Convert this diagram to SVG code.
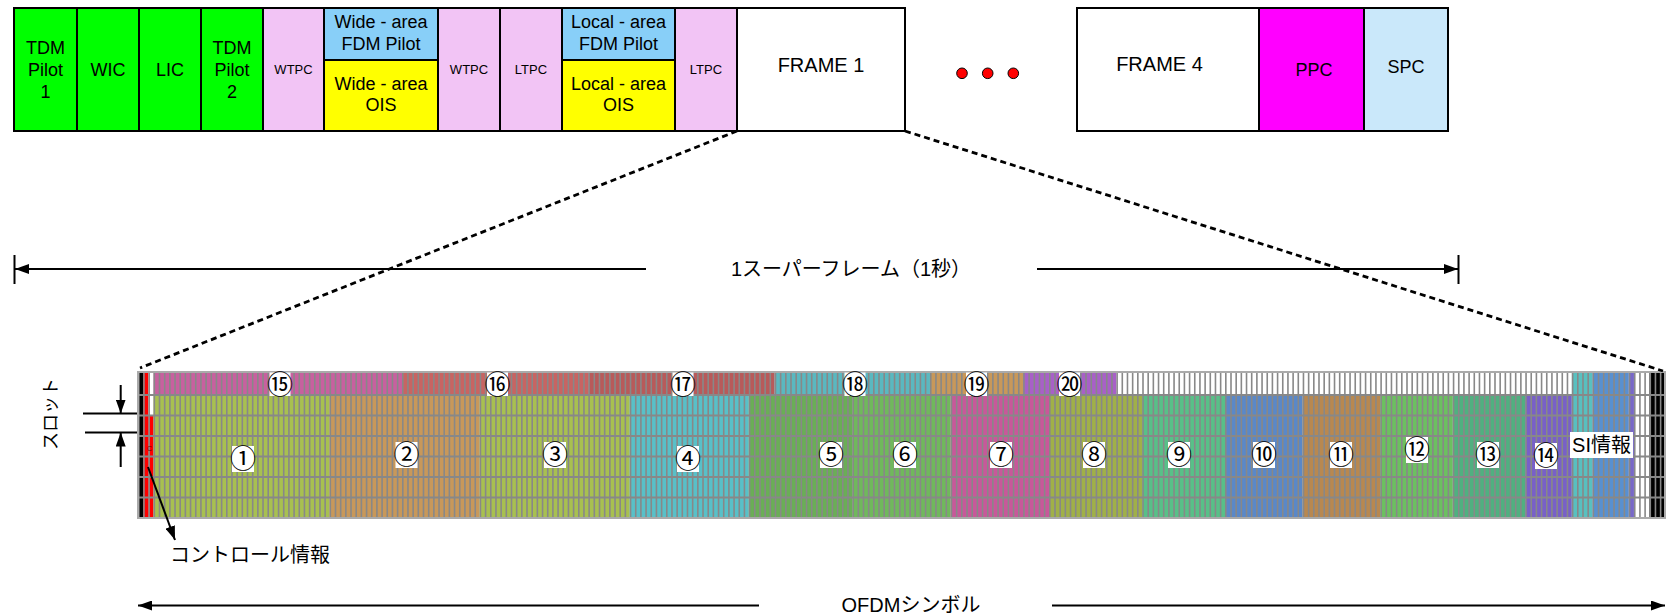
<svg xmlns="http://www.w3.org/2000/svg" width="1666" height="614" viewBox="0 0 1666 614">
<defs>
<style>
.blk{stroke:#000;stroke-width:2}
.t{font-family:"Liberation Sans",Arial,sans-serif;font-size:18px;fill:#000;text-anchor:middle}
.ts{font-size:13px}
.tf{font-size:20px}
.j{font-family:"Liberation Sans","Noto Sans CJK JP",sans-serif;font-size:20px;fill:#000}
.n{font-family:"Noto Sans CJK JP",sans-serif;font-size:26px;text-anchor:middle;fill:#000}
.lb{fill:#fff}
.ln{stroke:#000;stroke-width:2;fill:none}
.dot{stroke:#000;stroke-width:2.8;stroke-dasharray:6 4;fill:none}
</style>
<marker id="ah" viewBox="0 0 14 10" refX="14" refY="5" markerWidth="14" markerHeight="10" markerUnits="userSpaceOnUse" orient="auto"><path d="M0,0 L14,5 L0,10 z" fill="#000"/></marker>
</defs>
<rect width="1666" height="614" fill="#fff"/>

<g id="tdm-pilot-1"><rect class="blk" x="14" y="8" width="63" height="123" fill="#00ff00"/><text class="t" x="45.5" y="54">TDM</text><text class="t" x="45.5" y="76">Pilot</text><text class="t" x="45.5" y="98">1</text></g>
<g id="wic"><rect class="blk" x="77" y="8" width="62" height="123" fill="#00ff00"/><text class="t" x="108" y="76">WIC</text></g>
<g id="lic"><rect class="blk" x="139" y="8" width="62" height="123" fill="#00ff00"/><text class="t" x="170" y="76">LIC</text></g>
<g id="tdm-pilot-2"><rect class="blk" x="201" y="8" width="62" height="123" fill="#00ff00"/><text class="t" x="232" y="54">TDM</text><text class="t" x="232" y="76">Pilot</text><text class="t" x="232" y="98">2</text></g>
<g id="wtpc-1"><rect class="blk" x="263" y="8" width="61" height="123" fill="#f2c4f5"/><text class="t ts" x="293.5" y="74">WTPC</text></g>
<g id="wide-fdm-pilot"><rect class="blk" x="324" y="8" width="114" height="52" fill="#88cff8"/><text class="t" x="381" y="28">Wide - area</text><text class="t" x="381" y="50">FDM Pilot</text></g>
<g id="wide-ois"><rect class="blk" x="324" y="60" width="114" height="71" fill="#ffff00"/><text class="t" x="381" y="90">Wide - area</text><text class="t" x="381" y="111">OIS</text></g>
<g id="wtpc-2"><rect class="blk" x="438" y="8" width="62" height="123" fill="#f2c4f5"/><text class="t ts" x="469" y="74">WTPC</text></g>
<g id="ltpc-1"><rect class="blk" x="500" y="8" width="62" height="123" fill="#f2c4f5"/><text class="t ts" x="531" y="74">LTPC</text></g>
<g id="local-fdm-pilot"><rect class="blk" x="562" y="8" width="113" height="52" fill="#88cff8"/><text class="t" x="618.5" y="28">Local - area</text><text class="t" x="618.5" y="50">FDM Pilot</text></g>
<g id="local-ois"><rect class="blk" x="562" y="60" width="113" height="71" fill="#ffff00"/><text class="t" x="618.5" y="90">Local - area</text><text class="t" x="618.5" y="111">OIS</text></g>
<g id="ltpc-2"><rect class="blk" x="675" y="8" width="62" height="123" fill="#f2c4f5"/><text class="t ts" x="706" y="74">LTPC</text></g>
<g id="frame-1"><rect class="blk" x="737" y="8" width="168" height="123" fill="#fff"/><text class="t tf" x="821" y="72">FRAME 1</text></g>
<g id="ellipsis"><circle cx="962" cy="73.3" r="5.3" fill="#f00" stroke="#000" stroke-width="1"/><circle cx="987.7" cy="73.3" r="5.3" fill="#f00" stroke="#000" stroke-width="1"/><circle cx="1013.3" cy="73.3" r="5.3" fill="#f00" stroke="#000" stroke-width="1"/></g>
<g id="frame-4"><rect class="blk" x="1077" y="8" width="182" height="123" fill="#fff"/><text class="t tf" x="1159.5" y="71">FRAME 4</text></g>
<g id="ppc"><rect class="blk" x="1259" y="8" width="105" height="123" fill="#ff00ff"/><text class="t" x="1314" y="76">PPC</text></g>
<g id="spc"><rect class="blk" x="1364" y="8" width="84" height="123" fill="#cae8fa"/><text class="t" x="1406" y="73">SPC</text></g>

<g id="frame-grid">
<rect x="138" y="372" width="1527" height="146" fill="#fff"/>
<rect x="138" y="372" width="5.18" height="146" fill="#000"/>
<rect x="143.18" y="372" width="5.18" height="146" fill="#f00"/>
<rect x="148.35" y="415.5" width="5.18" height="102.5" fill="#f00"/>
<rect x="153.53" y="372" width="248.46" height="23" fill="#c8609f"/>
<rect x="401.99" y="372" width="186.35" height="23" fill="#c86462"/>
<rect x="588.34" y="372" width="186.34" height="23" fill="#b85a5a"/>
<rect x="774.68" y="372" width="155.29" height="23" fill="#5ab8c0"/>
<rect x="929.97" y="372" width="93.18" height="23" fill="#c8985a"/>
<rect x="1023.15" y="372" width="93.17" height="23" fill="#a860c8"/>
<rect x="153.53" y="395" width="175.99" height="123" fill="#a8c050"/>
<rect x="329.52" y="395" width="150.12" height="123" fill="#c8985a"/>
<rect x="479.64" y="395" width="150.11" height="123" fill="#a8c050"/>
<rect x="629.75" y="395" width="119.05" height="123" fill="#58c0c8"/>
<rect x="748.8" y="395" width="103.53" height="123" fill="#6aae56"/>
<rect x="852.33" y="395" width="98.35" height="123" fill="#70b85c"/>
<rect x="950.68" y="395" width="98.35" height="123" fill="#c8589a"/>
<rect x="1049.03" y="395" width="93.17" height="123" fill="#a0b048"/>
<rect x="1142.2" y="395" width="82.82" height="123" fill="#58c088"/>
<rect x="1225.02" y="395" width="77.64" height="123" fill="#5a88c8"/>
<rect x="1302.66" y="395" width="77.65" height="123" fill="#b88850"/>
<rect x="1380.31" y="395" width="72.47" height="123" fill="#6cc060"/>
<rect x="1452.78" y="395" width="72.47" height="123" fill="#50b080"/>
<rect x="1525.25" y="395" width="46.59" height="123" fill="#7860c8"/>
<rect x="1571.84" y="372" width="20.7" height="146" fill="#58c0c0"/>
<rect x="1592.54" y="372" width="36.24" height="146" fill="#5890d0"/>
<rect x="1628.78" y="372" width="5.17" height="146" fill="#7868c8"/>
<rect x="1649.48" y="372" width="15.52" height="146" fill="#000"/>
<line x1="138" y1="445" x2="1665" y2="445" stroke="#888" stroke-width="146" stroke-dasharray="1.6 3.5763"/>
<g fill="#888">
<rect x="138" y="394" width="1527" height="2"/>
<rect x="138" y="414.5" width="1527" height="2"/>
<rect x="138" y="435" width="1527" height="2"/>
<rect x="138" y="455.5" width="1527" height="2"/>
<rect x="138" y="476" width="1527" height="2"/>
<rect x="138" y="496.5" width="1527" height="2"/>
</g>
<rect x="138" y="372" width="1527" height="146" fill="none" stroke="#aaa" stroke-width="2"/>
<text x="149.5" y="451" font-family="Liberation Sans,sans-serif" font-size="7" fill="#600" text-anchor="middle">C</text>
<g class="lb">
<rect x="269.5" y="372.5" width="21" height="23.5"/>
<rect x="487" y="372.5" width="21" height="23.5"/>
<rect x="672.5" y="372.5" width="21" height="23.5"/>
<rect x="844.5" y="372.5" width="21" height="23.5"/>
<rect x="966" y="372.5" width="21" height="23.5"/>
<rect x="1059" y="372.5" width="21" height="23.5"/>
<rect x="232" y="446" width="22" height="26"/>
<rect x="395.5" y="442" width="22" height="26"/>
<rect x="544" y="442" width="22" height="26"/>
<rect x="677" y="446" width="22" height="26"/>
<rect x="820" y="442" width="22" height="26"/>
<rect x="894" y="442" width="22" height="26"/>
<rect x="990" y="442" width="22" height="26"/>
<rect x="1083" y="442" width="22" height="26"/>
<rect x="1168" y="442" width="22" height="26"/>
<rect x="1253" y="442" width="22" height="26"/>
<rect x="1330" y="442" width="22" height="26"/>
<rect x="1406" y="437" width="22" height="26"/>
<rect x="1477" y="442" width="22" height="26"/>
<rect x="1535" y="443" width="22" height="26"/>
<rect x="1570" y="432" width="63" height="26"/>
</g>
<text class="n" x="280" y="393.5">⑮</text>
<text class="n" x="497.5" y="393.5">⑯</text>
<text class="n" x="683" y="393.5">⑰</text>
<text class="n" x="855" y="393.5">⑱</text>
<text class="n" x="976.5" y="393.5">⑲</text>
<text class="n" x="1069.5" y="393.5">⑳</text>
<text class="n" x="243" y="468">①</text>
<text class="n" x="406.5" y="464">②</text>
<text class="n" x="555" y="464">③</text>
<text class="n" x="688" y="468">④</text>
<text class="n" x="831" y="464">⑤</text>
<text class="n" x="905" y="464">⑥</text>
<text class="n" x="1001" y="464">⑦</text>
<text class="n" x="1094" y="464">⑧</text>
<text class="n" x="1179" y="464">⑨</text>
<text class="n" x="1264" y="464">⑩</text>
<text class="n" x="1341" y="464">⑪</text>
<text class="n" x="1417" y="459">⑫</text>
<text class="n" x="1488" y="464">⑬</text>
<text class="n" x="1546" y="465">⑭</text>
<text class="j" x="1601.5" y="452" text-anchor="middle">SI情報</text>
</g>

<g id="labels">
<text class="j" x="851" y="276" text-anchor="middle">1スーパーフレーム（1秒）</text>
<text class="j" x="911" y="612" text-anchor="middle">OFDMシンボル</text>
<text class="j" x="170" y="562">コントロール情報</text>
<text class="j" transform="translate(57,414) rotate(-90)" text-anchor="middle" style="font-size:18px">スロット</text>
</g>

<g id="connectors">
<line class="dot" x1="737" y1="131" x2="140" y2="368"/>
<line class="dot" x1="905" y1="131" x2="1663" y2="371"/>
<line class="ln" x1="646" y1="269" x2="15" y2="269" marker-end="url(#ah)"/>
<line class="ln" x1="1037" y1="269" x2="1458" y2="269" marker-end="url(#ah)"/>
<line class="ln" x1="14.5" y1="255" x2="14.5" y2="284"/>
<line class="ln" x1="1458.5" y1="255" x2="1458.5" y2="284"/>
<line class="ln" x1="759" y1="605.5" x2="138" y2="605.5" marker-end="url(#ah)"/>
<line class="ln" x1="1052" y1="605.5" x2="1665" y2="605.5" marker-end="url(#ah)"/>
<line class="ln" x1="148" y1="467" x2="175" y2="540" marker-end="url(#ah)"/>
<line class="ln" x1="83" y1="413.5" x2="137" y2="413.5"/>
<line class="ln" x1="85" y1="432.5" x2="137" y2="432.5"/>
<line class="ln" x1="120.7" y1="385" x2="120.7" y2="413.5" marker-end="url(#ah)"/>
<line class="ln" x1="120.7" y1="467" x2="120.7" y2="432.5" marker-end="url(#ah)"/>
</g>
</svg>
